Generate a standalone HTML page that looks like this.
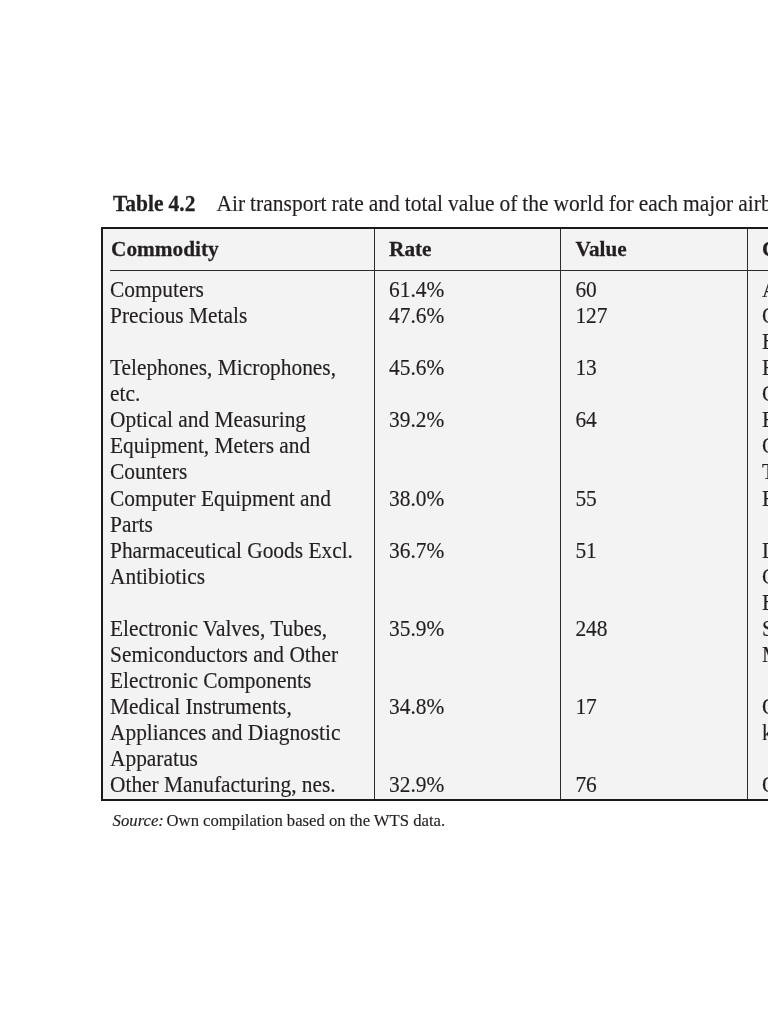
<!DOCTYPE html>
<html><head><meta charset="utf-8">
<style>
html,body{margin:0;padding:0;background:#fff;}
body{width:768px;height:1024px;overflow:hidden;position:relative;font-family:"Liberation Serif",serif;color:#231f20;}
.t{position:absolute;white-space:nowrap;line-height:26px;font-size:21.4px;transform:scaleY(1.03);-webkit-text-stroke:0.15px #231f20;transform-origin:0 20.4px;}
.b{font-weight:bold;-webkit-text-stroke:0.25px #231f20;}
#tbl{position:absolute;left:101.1px;top:227.1px;width:700px;height:569.7px;border:2.2px solid #1a1a1a;border-right:none;background:#f3f3f3;box-sizing:content-box;}
.hl{position:absolute;background:#2b2b2b;}
</style></head><body>
<div class="t" id="cap" style="left:113px;top:191px;font-size:21.5px;word-spacing:-0.4px;"><span class="b">Table 4.2</span><span style="display:inline-block;width:21px"></span>Air transport rate and total value of the world for each major airborne commodity</div>
<div id="tbl"></div>
<div class="hl" style="left:110px;top:270px;width:700px;height:1.4px;"></div>
<div class="hl" style="left:373.9px;top:229px;width:1.4px;height:570px;"></div>
<div class="hl" style="left:559.9px;top:229px;width:1.4px;height:570px;"></div>
<div class="hl" style="left:746.9px;top:229px;width:1.4px;height:570px;"></div>
<div class="t b" style="left:111px;top:236px;font-size:21.3px;">Commodity</div>
<div class="t b" style="left:389px;top:236px;font-size:21.3px;">Rate</div>
<div class="t b" style="left:575.6px;top:236px;font-size:21.2px;">Value</div>
<div class="t b" style="left:762px;top:236px;font-size:21.3px;">Category</div>

<div class="t" style="left:110px;top:277px;">Computers</div>
<div class="t" style="left:110px;top:303px;">Precious Metals</div>
<div class="t" style="left:110px;top:355px;">Telephones, Microphones,</div>
<div class="t" style="left:110px;top:381px;">etc.</div>
<div class="t" style="left:110px;top:407px;">Optical and Measuring</div>
<div class="t" style="left:110px;top:433px;">Equipment, Meters and</div>
<div class="t" style="left:110px;top:459px;">Counters</div>
<div class="t" style="left:110px;top:486px;">Computer Equipment and</div>
<div class="t" style="left:110px;top:512px;">Parts</div>
<div class="t" style="left:110px;top:538px;">Pharmaceutical Goods Excl.</div>
<div class="t" style="left:110px;top:564px;">Antibiotics</div>
<div class="t" style="left:110px;top:616px;">Electronic Valves, Tubes,</div>
<div class="t" style="left:110px;top:642px;">Semiconductors and Other</div>
<div class="t" style="left:110px;top:668px;">Electronic Components</div>
<div class="t" style="left:110px;top:694px;">Medical Instruments,</div>
<div class="t" style="left:110px;top:720px;">Appliances and Diagnostic</div>
<div class="t" style="left:110px;top:746px;">Apparatus</div>
<div class="t" style="left:110px;top:772px;">Other Manufacturing, nes.</div>
<div class="t" style="left:389px;top:277px;">61.4%</div>
<div class="t" style="left:389px;top:303px;">47.6%</div>
<div class="t" style="left:389px;top:355px;">45.6%</div>
<div class="t" style="left:389px;top:407px;">39.2%</div>
<div class="t" style="left:389px;top:486px;">38.0%</div>
<div class="t" style="left:389px;top:538px;">36.7%</div>
<div class="t" style="left:389px;top:616px;">35.9%</div>
<div class="t" style="left:389px;top:694px;">34.8%</div>
<div class="t" style="left:389px;top:772px;">32.9%</div>
<div class="t" style="left:575.4px;top:277px;">60</div>
<div class="t" style="left:575.4px;top:303px;">127</div>
<div class="t" style="left:575.4px;top:355px;">13</div>
<div class="t" style="left:575.4px;top:407px;">64</div>
<div class="t" style="left:575.4px;top:486px;">55</div>
<div class="t" style="left:575.4px;top:538px;">51</div>
<div class="t" style="left:575.4px;top:616px;">248</div>
<div class="t" style="left:575.4px;top:694px;">17</div>
<div class="t" style="left:575.4px;top:772px;">76</div>
<div class="t" style="left:762px;top:277px;">Automatic</div>
<div class="t" style="left:762px;top:303px;">Gold</div>
<div class="t" style="left:762px;top:329px;">Bullion</div>
<div class="t" style="left:762px;top:355px;">Electrical</div>
<div class="t" style="left:762px;top:381px;">Goods</div>
<div class="t" style="left:762px;top:407px;">Equipment</div>
<div class="t" style="left:762px;top:433px;">Goods</div>
<div class="t" style="left:762px;top:459px;">Tools</div>
<div class="t" style="left:762px;top:486px;">Electrical</div>
<div class="t" style="left:762px;top:538px;">Drugs</div>
<div class="t" style="left:762px;top:564px;">Chemical</div>
<div class="t" style="left:762px;top:590px;">Basic</div>
<div class="t" style="left:762px;top:616px;">Semiconductor</div>
<div class="t" style="left:762px;top:642px;">Machinery</div>
<div class="t" style="left:762px;top:694px;">Other</div>
<div class="t" style="left:762px;top:720px;">kinds</div>
<div class="t" style="left:762px;top:772px;">Other</div>
<div class="t" id="src" style="transform:none;left:112.6px;top:808px;font-size:16.7px;word-spacing:-0.1px;"><i>Source:</i><span style="display:inline-block;width:2.7px"></span>Own compilation based on the WTS data.</div>
</body></html>
